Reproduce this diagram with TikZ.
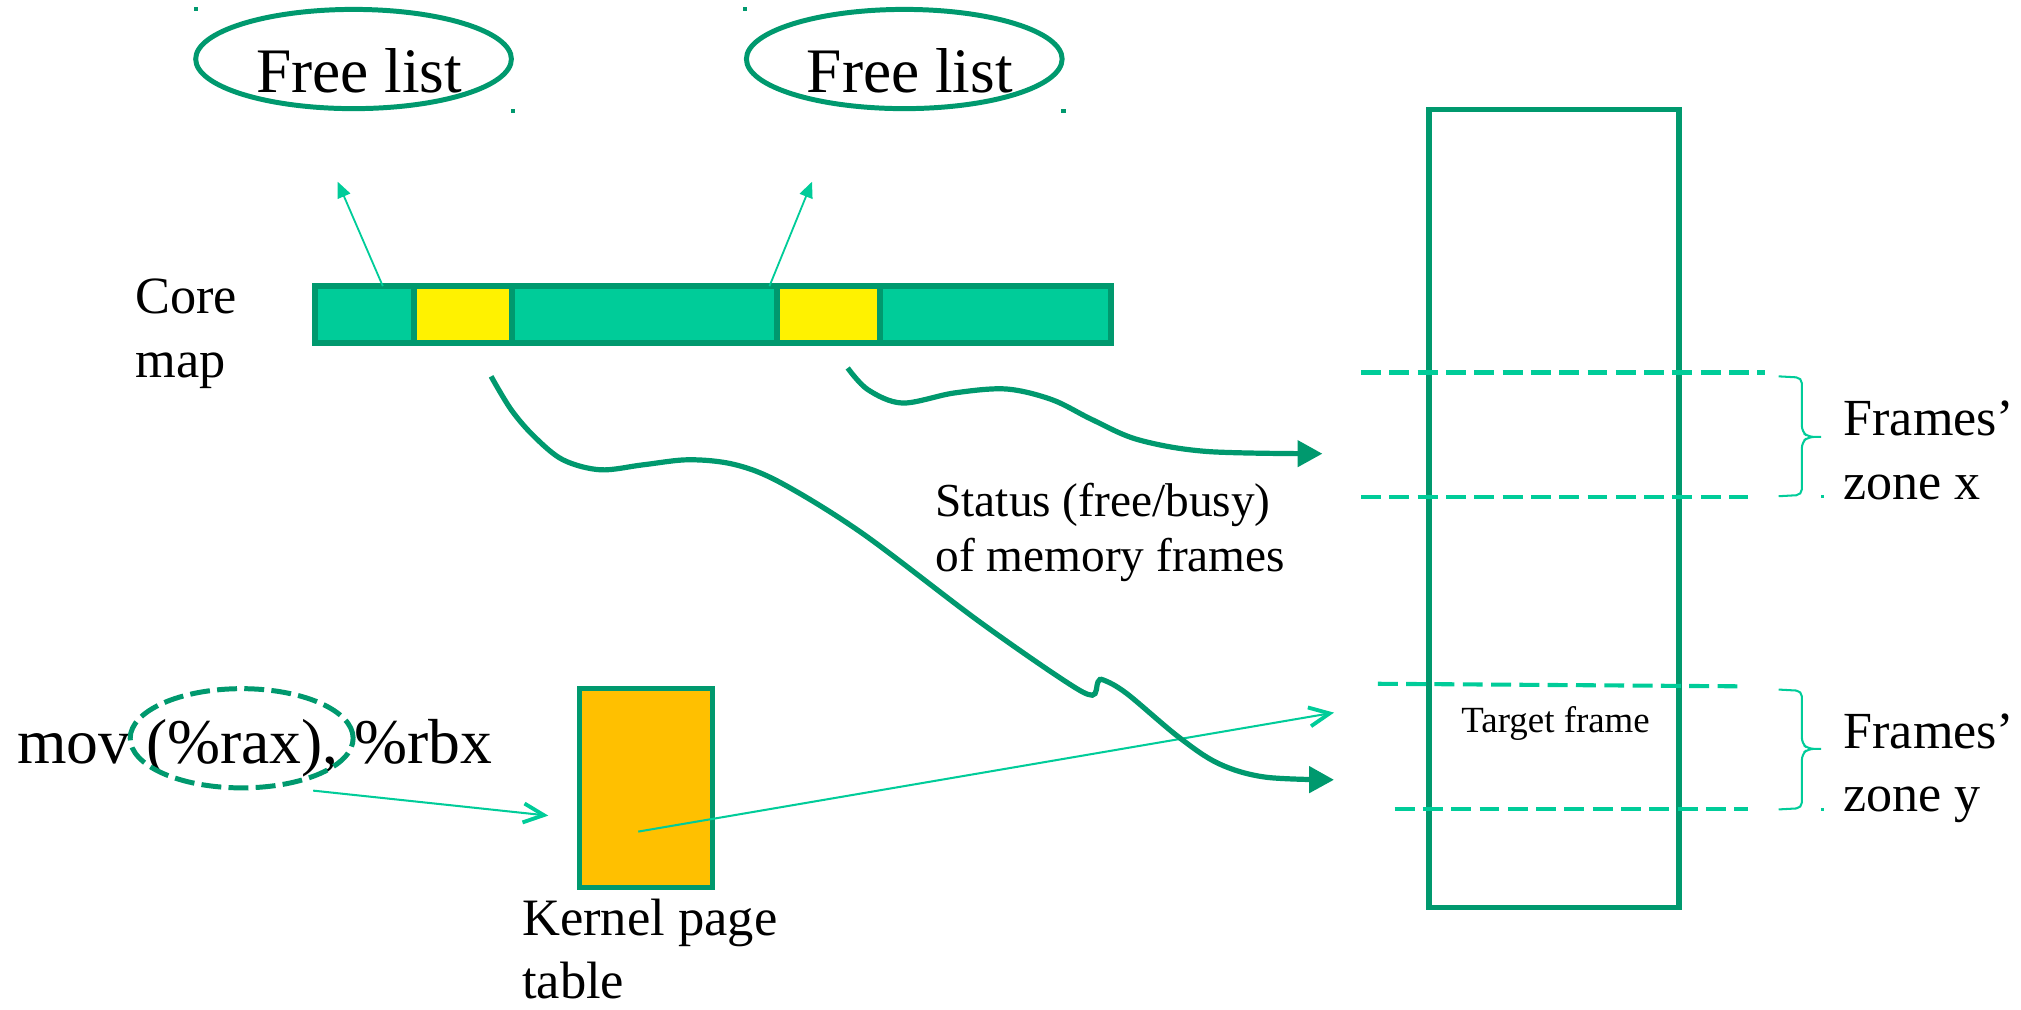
\documentclass[tikz,border=0pt]{standalone}
\usepackage{fontspec}
\setmainfont{Liberation Serif}
\usepackage{tikz}
\usetikzlibrary{shapes.geometric, arrows.meta, positioning, calc}
\definecolor{darkteal}{RGB}{0,153,110}
\definecolor{lightteal}{RGB}{0,204,153}
\definecolor{kptorange}{RGB}{255,192,0}

\begin{document}
\begin{tikzpicture}[
    x=0.02cm, y=-0.02cm,
    freelist/.style={ellipse, draw=darkteal, line width=2.2pt,
                     minimum width=4.9cm, minimum height=1.54cm, inner sep=0pt},
    cell/.style={rectangle, draw=darkteal, line width=2.6pt, inner sep=0pt,
                 minimum height=0.88cm},
    txt/.style={inner sep=0pt, align=left, anchor=base west},
    wave/.style={darkteal, line width=2.3pt,
                 -{Triangle[length=11pt, width=11.4pt]}},
    pointer/.style={lightteal, line width=0.9pt,
                    -{Straight Barb[length=9pt, width=8.4pt, line width=1.7pt]}},
    uparrow/.style={lightteal, line width=0.8pt, -{Triangle[length=7pt, width=6pt]}},
    zoneline/.style={lightteal, line width=1.8pt, dash pattern=on 8.8pt off 3.7pt},
    bracepen/.style={lightteal, line width=0.9pt, rounded corners=2.5pt},
    marker/.style={inner sep=0pt, minimum size=2pt}
]
\useasboundingbox (0,0) rectangle (1568,783);

% free lists
\node[freelist] (fl1) at (274.3,45.8) {};
\node[freelist, right=3.57cm of fl1] (fl2) {};
\node[font=\fontsize{28}{34}\selectfont, inner sep=0pt, anchor=base] (fl1txt)
    at ($(fl1.center)+(4.3,26.1)$) {Free list};
\node[font=\fontsize{28}{34}\selectfont, inner sep=0pt, anchor=base] (fl2txt)
    at ($(fl2.center)+(4.3,26.1)$) {Free list};
\node[marker, fill=darkteal] (fl1tl) at (152,7) {};
\node[marker, fill=darkteal] (fl1br) at (398,86) {};
\node[marker, fill=darkteal] (fl2tl) at (578,7) {};
\node[marker, fill=darkteal] (fl2br) at (825,86) {};

% core map
\node[cell, fill=lightteal, minimum width=12.36cm] (core) at (553,244) {};
\node[cell, fill=yellow, minimum width=1.52cm] (slot1) at (359,244) {};
\node[cell, fill=yellow, minimum width=1.6cm] (slot2) at (643,244) {};
\node[txt, font=\fontsize{23.1}{28.5}\selectfont] (corelbl) at (104.7,293) {Core\\map};

\coordinate (up1s) at (297,222);
\coordinate (up1e) at (262,141);
\coordinate (up2s) at (597,222);
\coordinate (up2e) at (630,141);
\draw[uparrow] (up1s) -- (up1e);
\draw[uparrow] (up2s) -- (up2e);

% physical memory
\node[draw=darkteal, line width=2.4pt, minimum width=3.88cm, minimum height=12.38cm,
      inner sep=0pt] (mem) at (1205.7,394.5) {};
\draw[zoneline] (1056,289) -- (1369,289);
\draw[zoneline] (1056,385.3) -- (1356,385.3);
\draw[zoneline] (1069,530.5) -- (1352,532.5);
\draw[zoneline] (1082,628) -- (1356,628);

\draw[bracepen] (1380,292) -- (1398,293) -- (1398,335) -- (1403,339) -- (1413,339)
                (1413,339) -- (1403,339) -- (1398,343) -- (1398,384) -- (1380,385);
\draw[bracepen] (1380,535) -- (1398,536) -- (1398,577) -- (1403,581) -- (1413,581)
                (1413,581) -- (1403,581) -- (1398,585) -- (1398,627) -- (1380,628);
\node[marker, minimum size=1.5pt, fill=lightteal] (zxdot) at (1414,385.3) {};
\node[marker, minimum size=1.5pt, fill=lightteal] (zydot) at (1414,628) {};

\node[txt, font=\fontsize{23}{28}\selectfont] (zonex) at (1430,387.4) {Frames’\\zone x};
\node[txt, font=\fontsize{23}{28}\selectfont] (zoney) at (1430,629.8) {Frames’\\zone y};
\node[txt, font=\fontsize{16.3}{19.5}\selectfont] (target) at (1133.5,568.2) {Target frame};
\node[txt, font=\fontsize{20.9}{24.3}\selectfont] (status) at (725.4,443.5)
    {Status (free/busy)\\of memory frames};

% kernel page table
\node[draw=darkteal, fill=kptorange, line width=2.4pt, minimum width=2.06cm,
      minimum height=3.09cm, inner sep=0pt] (kpt) at (501.3,611.4) {};
\node[txt, font=\fontsize{23.2}{27.9}\selectfont] (kptlbl) at (404.7,775) {Kernel page\\table};

\node[txt, font=\fontsize{28.1}{34}\selectfont] (instr) at (13,592.2) {mov (\%rax), \%rbx};
\node[ellipse, draw=darkteal, line width=2.2pt, dash pattern=on 8.8pt off 3.2pt,
      minimum width=3.46cm, minimum height=1.54cm, inner sep=0pt] (operand) at (187.5,572.8) {};

\coordinate (opout) at (243,613.4);
\coordinate (kptin) at (425.4,632.8);
\coordinate (kptout) at (495.2,645.2);
\coordinate (framein) at (1035,552.9);
\draw[pointer] (opout) -- (kptin);
\draw[pointer] (kptout) -- (framein);

% status arrows
\coordinate (w1s) at (381,292);
\coordinate (w1e) at (1035,605);
\coordinate (w2s) at (657.7,285.5);
\coordinate (w2e) at (1026,352);
\draw[wave] plot[smooth, tension=0.55] coordinates {(w1s) (396.6,317.9) (414.4,338.6)
    (436.7,356.7) (465.8,364.5) (499.2,360.6) (535,356.7) (570.7,360.6) (606.4,374.9)
    (668.9,413.7) (758.2,481.1) (825.1,527.7) (847.4,539.4) (851.9,529) (856.4,527.7)
    (874.2,538.1) (914.4,571.8) (945.6,592.5) (981.4,602.9) (w1e)};
\draw[wave] plot[smooth, tension=0.55] coordinates {(w2s) (673.3,302.3) (700.1,312.7)
    (740.3,304.9) (780.5,301.8) (816.2,310.1) (847.4,325.6) (883.2,341.2) (936.7,350.3)
    (w2e)};

\end{tikzpicture}
\end{document}
